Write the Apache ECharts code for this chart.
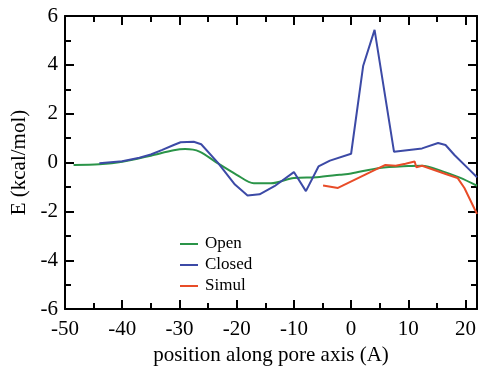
<!DOCTYPE html>
<html>
<head>
<meta charset="utf-8">
<script src="https://cdn.jsdelivr.net/npm/echarts@6/dist/echarts.min.js"></script>
<style>
  html, body { margin: 0; padding: 0; background: #fff; }
  #chart { width: 480px; height: 371px; }
</style>
</head>
<body>
<div id="chart"></div>
<script>
const xTicks = [-50, -40, -30, -20, -10, 0, 10, 20];
const yTicks = [-6, -4, -2, 0, 2, 4, 6];

const openX = [-48.5, -44, -40, -35, -31, -29, -26.5, -23.5, -20, -17, -14, -10, -6, -2, 0, 5, 10, 12.4, 16, 19, 22];
const openY = [-0.1, -0.07, 0.03, 0.28, 0.5, 0.55, 0.45, 0.0, -0.5, -0.85, -0.85, -0.63, -0.6, -0.5, -0.45, -0.22, -0.14, -0.13, -0.36, -0.62, -0.95];

const closedX = [-44, -40, -37, -35, -33, -31, -29.8, -27.5, -26.2, -23.3, -20.3, -18.1, -16, -13.4, -10, -7.9, -5.7, -3.7, 0, 2.1, 4.1, 7.5, 12.4, 15.2, 16.5, 18.1, 20.7, 22];
const closedY = [-0.03, 0.05, 0.2, 0.33, 0.52, 0.72, 0.83, 0.85, 0.75, 0.0, -0.9, -1.35, -1.3, -0.97, -0.39, -1.17, -0.16, 0.08, 0.36, 3.95, 5.43, 0.44, 0.58, 0.8, 0.72, 0.3, -0.3, -0.6];

const simulX = [-4.9, -2.3, 4.8, 6, 7.8, 9.5, 11.1, 11.4, 12.4, 16.9, 18.6, 19.8, 21.6, 22];
const simulY = [-0.94, -1.04, -0.23, -0.1, -0.13, -0.05, 0.04, -0.19, -0.13, -0.5, -0.63, -1.04, -1.91, -2.1];

const zip = (xs, ys) => xs.map((x, i) => [x, ys[i]]);
const font = '"Liberation Serif", "DejaVu Serif", serif';

const chart = echarts.init(document.getElementById('chart'));

const tickStyle = {
    show: true, inside: true, length: 9,
    lineStyle: { color: '#000', width: 2 }
};
const minorStyle = {
    show: true, splitNumber: 2, length: 6,
    lineStyle: { color: '#000', width: 2 }
};
const lineStyle = { show: true, onZero: false, lineStyle: { color: '#000', width: 2 } };

const xBase = {
    type: 'value', min: xTicks[0], max: 22, interval: 10,
    axisLine: lineStyle, axisTick: tickStyle, minorTick: minorStyle,
    splitLine: { show: false }
};
const yBase = {
    type: 'value', min: yTicks[0], max: yTicks[yTicks.length - 1], interval: 2,
    axisLine: lineStyle, axisTick: tickStyle, minorTick: minorStyle,
    splitLine: { show: false }
};

let option = {
    animation: false,
    textStyle: { fontFamily: font },
    grid: { left: 65, right: -2, top: 16, bottom: 57 },
    legend: {
        orient: 'vertical',
        left: 175, top: 230,
        itemWidth: 18, itemHeight: 2, itemGap: 3,
        icon: 'rect',
        textStyle: { fontFamily: font, fontSize: 17, color: '#000', lineHeight: 18, padding: [0, 0, 0, 2] },
        data: ['Open', 'Closed', 'Simul']
    },
    xAxis: [
        Object.assign({}, xBase, {
            position: 'bottom',
            name: 'position along pore axis (A)',
            nameLocation: 'middle', nameGap: 34,
            nameTextStyle: { fontFamily: font, fontSize: 21, color: '#000' },
            axisLabel: {
                fontFamily: font, fontSize: 21, color: '#000', margin: 10,
                formatter: (v) => (xTicks.includes(v) ? String(v) : '')
            }
        }),
        Object.assign({}, xBase, { position: 'top', axisLabel: { show: false } })
    ],
    yAxis: [
        Object.assign({}, yBase, {
            position: 'left',
            name: 'E (kcal/mol)',
            nameLocation: 'middle', nameGap: 34,
            nameTextStyle: { fontFamily: font, fontSize: 21, color: '#000' },
            axisLabel: { fontFamily: font, fontSize: 21, color: '#000', margin: 7 }
        }),
        Object.assign({}, yBase, { position: 'right', axisLabel: { show: false } })
    ],
    series: [
        {
            name: 'Open', type: 'line', showSymbol: false, smooth: 0.3,
            color: '#2a9448', lineStyle: { width: 2 },
            data: zip(openX, openY)
        },
        {
            name: 'Closed', type: 'line', showSymbol: false,
            color: '#3c4aa6', lineStyle: { width: 2 },
            data: zip(closedX, closedY)
        },
        {
            name: 'Simul', type: 'line', showSymbol: false,
            color: '#e84c28', lineStyle: { width: 2 },
            data: zip(simulX, simulY)
        }
    ]
};
chart.setOption(option);
</script>
</body>
</html>
